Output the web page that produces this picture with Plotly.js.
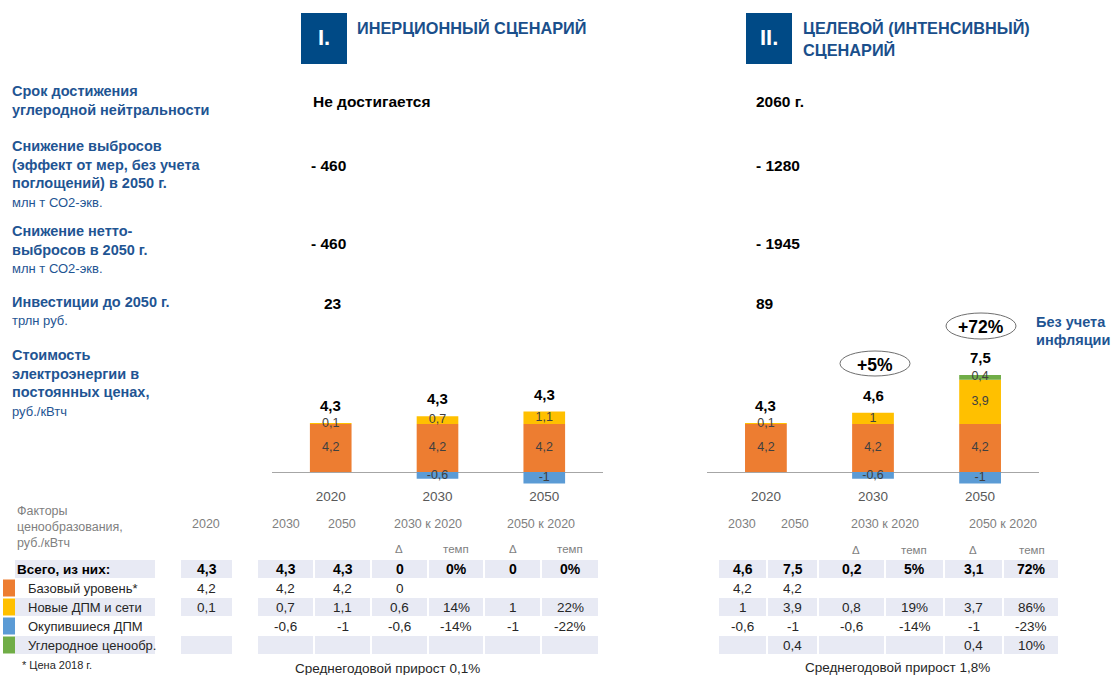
<!DOCTYPE html>
<html><head><meta charset="utf-8">
<script src="https://cdn.plot.ly/plotly-3.0.1.min.js"></script>
<style>html,body{margin:0;padding:0;background:#fff}#chart{width:1111px;height:675px}</style>
</head><body><div id="chart"></div>
<script>
// ---------- DATA ----------
const years = ['2020', '2030', '2050'];
// I. Inertial scenario, rub/kWh
const inBase   = [4.2, 4.2, 4.2];
const inNew    = [0.1, 0.7, 1.1];
const inPaid   = [0, -0.6, -1];
const inCarbon = [0, 0, 0];
const inTotal  = [4.3, 4.3, 4.3];
// II. Target (intensive) scenario, rub/kWh
const tgBase   = [4.2, 4.2, 4.2];
const tgNew    = [0.1, 1, 3.9];
const tgPaid   = [0, -0.6, -1];
const tgCarbon = [0, 0, 0.4];
const tgTotal  = [4.3, 4.6, 7.5];
const tgBadges = ['+5%', '+72%'];

const rowLabels = ['Срок достижения<br>углеродной нейтральности',
  'Снижение выбросов<br>(эффект от мер, без учета<br>поглощений) в 2050 г.',
  'Снижение нетто-<br>выбросов в 2050 г.',
  'Инвестиции до 2050 г.',
  'Стоимость<br>электроэнергии в<br>постоянных ценах,'];
const rowUnits = ['', 'млн т СО2-экв.', 'млн т СО2-экв.', 'трлн руб.', 'руб./кВтч'];
const inValues = ['Не достигается', '- 460', '- 460', '23'];
const tgValues = ['2060 г.', '- 1280', '- 1945', '89'];

const factorNames = ['Всего, из них:', 'Базовый уровень*', 'Новые ДПМ и сети', 'Окупившиеся ДПМ', 'Углеродное ценообр.'];
const factorColors = [null, '#ED7D31', '#FFC000', '#5B9BD5', '#70AD47'];
const tblIn2020  = [4.3, 4.2, 0.1, null, null];
const tblIn2030  = [4.3, 4.2, 0.7, -0.6, null];
const tblIn2050  = [4.3, 4.2, 1.1, -1, null];
const tblInD2030 = [0, 0, 0.6, -0.6, null];
const tblInT2030 = [0, null, 14, -14, null];
const tblInD2050 = [0, null, 1, -1, null];
const tblInT2050 = [0, null, 22, -22, null];
const tblTg2030  = [4.6, 4.2, 1, -0.6, null];
const tblTg2050  = [7.5, 4.2, 3.9, -1, 0.4];
const tblTgD2030 = [0.2, null, 0.8, -0.6, null];
const tblTgT2030 = [5, null, 19, -14, null];
const tblTgD2050 = [3.1, null, 3.7, -1, 0.4];
const tblTgT2050 = [72, null, 86, -23, 10];
const inAvgGrowth = 'Среднегодовой прирост 0,1%';
const tgAvgGrowth = 'Среднегодовой прирост 1,8%';

// ---------- HELPERS ----------
const W = 1111, H = 675;
const X = p => p / W, Y = p => 1 - p / H;
const F = 'Liberation Sans, Arial, sans-serif';
const BLUE_T = '#1F5593';
const fmt = v => v == null ? '' : String(v).replace('.', ',');
const pct = v => v == null ? '' : v + '%';
const ann = [];
const shapes = [];
function txt(x, y, text, size, color, anchor) {
  ann.push({xref: 'paper', yref: 'paper', x: X(x), y: Y(y), text: text, showarrow: false,
    xanchor: anchor || 'left', yanchor: 'middle', align: anchor === 'center' ? 'center' : 'left',
    font: {family: F, size: size, color: color}});
}
function rect(x0, y0, x1, y1, color) {
  shapes.push({type: 'rect', xref: 'paper', yref: 'paper', x0: X(x0), x1: X(x1), y0: Y(y1), y1: Y(y0),
    fillcolor: color, line: {width: 0}, layer: 'below'});
}

// ---------- HEADERS ----------
rect(301, 13, 347, 64, '#004A86');
txt(324, 38, '<b>I.</b>', 22, '#ffffff', 'center');
txt(355, 28, '<b>ИНЕРЦИОННЫЙ СЦЕНАРИЙ</b>', 16.3, '#1A4F8B');
rect(746, 13, 792, 64, '#004A86');
txt(769, 38, '<b>II.</b>', 22, '#ffffff', 'center');
txt(801, 28, '<b>ЦЕЛЕВОЙ (ИНТЕНСИВНЫЙ)</b>', 16.3, '#1A4F8B');
txt(801, 50, '<b>СЦЕНАРИЙ</b>', 16.3, '#1A4F8B');

// ---------- LEFT LABELS ----------
const labelTops = [91, 146, 231, 302, 355];
const lineH = 18.7;
rowLabels.forEach((lab, i) => {
  const lines = lab.split('<br>');
  lines.forEach((ln, j) => txt(10, labelTops[i] + j * lineH, '<b>' + ln + '</b>', 14.5, BLUE_T));
  if (rowUnits[i]) txt(10, labelTops[i] + lines.length * lineH, rowUnits[i], 13, BLUE_T);
});
const valueYs = [101, 166, 243, 304];
inValues.forEach((v, i) => txt(i === 3 ? 333 : (i === 0 ? 311 : 309), valueYs[i], '<b>' + v + '</b>', 15.5, '#000', i === 3 ? 'center' : 'left'));
tgValues.forEach((v, i) => txt(754, valueYs[i], '<b>' + v + '</b>', 15.5, '#000'));
txt(1034, 322, '<b>Без учета</b>', 14.5, BLUE_T);
txt(1034, 340, '<b>инфляции</b>', 14.5, BLUE_T);

// ---------- BARS ----------
const COLORS = {base: '#ED7D31', nw: '#FFC000', paid: '#5B9BD5', carbon: '#70AD47'};
function barTraces(base, nw, paid, carbon, total, xa, ya) {
  const t = [];
  const mk = (vals, color) => ({type: 'bar', x: years, y: vals, width: 0.39, xaxis: xa, yaxis: ya,
    marker: {color: color, line: {width: 0}}, hoverinfo: 'skip', showlegend: false});
  t.push(mk(base, COLORS.base), mk(nw, COLORS.nw), mk(carbon, COLORS.carbon), mk(paid, COLORS.paid));
  // segment labels at segment mid-points
  const lx = [], ly = [], lt = [];
  years.forEach((yr, i) => {
    let pos = 0;
    [base[i], nw[i], carbon[i]].forEach(v => {
      if (v !== 0) { lx.push(yr); ly.push(pos + v / 2); lt.push(fmt(v)); }
      pos += v;
    });
    if (paid[i] !== 0) { lx.push(yr); ly.push(paid[i] / 2); lt.push(fmt(paid[i])); }
    ann.push({xref: xa, yref: ya, x: i, y: pos, yanchor: 'bottom', yshift: 7, showarrow: false,
      text: '<b>' + fmt(total[i]) + '</b>', font: {family: F, size: 15, color: '#000'}});
  });
  t.push({type: 'scatter', mode: 'text', x: lx, y: ly, text: lt, xaxis: xa, yaxis: ya,
    textposition: 'middle center', textfont: {family: F, size: 12.5, color: '#404040'},
    hoverinfo: 'skip', showlegend: false});
  return t;
}
const data = [].concat(
  barTraces(inBase, inNew, inPaid, inCarbon, inTotal, 'x', 'y'),
  barTraces(tgBase, tgNew, tgPaid, tgCarbon, tgTotal, 'x2', 'y2')
);

// growth badges
const badgeBoxes = [[840, 351, 910, 376], [946, 313, 1016, 339]];
tgBadges.forEach((b, i) => {
  const [x0, y0, x1, y1] = badgeBoxes[i];
  shapes.push({type: 'circle', xref: 'paper', yref: 'paper', x0: X(x0), x1: X(x1), y0: Y(y1), y1: Y(y0),
    line: {color: '#6F6F6F', width: 1}, fillcolor: 'rgba(0,0,0,0)'});
  txt((x0 + x1) / 2, (y0 + y1) / 2 + 1, '<b>' + b + '</b>', 17.5, '#000', 'center');
});

// ---------- TABLES ----------
const SHADE = '#E8EAF4';
const rowY = [569, 588, 607, 626, 645];
const shadedRows = [0, 2, 4];
const inCols = [[181, 232], [258, 313], [315, 370], [372, 427], [429, 483], [485, 540], [542, 598]];
const inData = [tblIn2020.map(fmt), tblIn2030.map(fmt), tblIn2050.map(fmt), tblInD2030.map(fmt),
  tblInT2030.map(pct), tblInD2050.map(fmt), tblInT2050.map(pct)];
const tgCols = [[719, 766], [768, 817], [819, 884], [886, 943], [945, 1002], [1004, 1058]];
const tgData = [tblTg2030.map(fmt), tblTg2050.map(fmt), tblTgD2030.map(fmt), tblTgT2030.map(pct),
  tblTgD2050.map(fmt), tblTgT2050.map(pct)];

shadedRows.forEach(r => {
  const y0 = rowY[r] - 9, y1 = rowY[r] + 9;
  rect(15, y0, 155, y1, SHADE);
  inCols.forEach(c => rect(c[0], y0, c[1], y1, SHADE));
  tgCols.forEach(c => rect(c[0], y0, c[1], y1, SHADE));
});
factorNames.forEach((n, r) => {
  if (r === 0) txt(15, rowY[r], '<b>' + n + '</b>', 13.5, '#000');
  else {
    txt(26, rowY[r], n, 13, '#262626');
    rect(3, rowY[r] - 8.5, 15, rowY[r] + 8.5, factorColors[r]);
  }
});
function fillTable(cols, dat) {
  cols.forEach((c, ci) => dat[ci].forEach((v, r) => {
    if (v !== '') txt((c[0] + c[1]) / 2, rowY[r], r === 0 ? '<b>' + v + '</b>' : v, r === 0 ? 14 : 13.5, r === 0 ? '#000' : '#262626', 'center');
  }));
}
fillTable(inCols, inData);
fillTable(tgCols, tgData);

const GRAY = '#7F7F7F';
txt(15, 511, 'Факторы', 12.5, GRAY);
txt(15, 527, 'ценообразования,', 12.5, GRAY);
txt(15, 543, 'руб./кВтч', 12.5, GRAY);
const inHead = [['2020', 206], ['2030', 286], ['2050', 342], ['2030 к 2020', 428], ['2050 к 2020', 541]];
inHead.forEach(h => txt(h[1], 524, h[0], 12.5, GRAY, 'center'));
[[399, 'Δ'], [456, 'темп'], [513, 'Δ'], [570, 'темп']].forEach(h => txt(h[0], 549, h[1], 11.5, GRAY, 'center'));
const tgHead = [['2030', 742], ['2050', 795], ['2030 к 2020', 885], ['2050 к 2020', 1003]];
tgHead.forEach(h => txt(h[1], 524, h[0], 12.5, GRAY, 'center'));
[[856, 'Δ'], [914, 'темп'], [973, 'Δ'], [1032, 'темп']].forEach(h => txt(h[0], 550, h[1], 11.5, GRAY, 'center'));

txt(20, 665, '* Цена 2018 г.', 11, '#262626');
txt(387, 668, inAvgGrowth, 13.5, '#262626', 'center');
txt(897, 667, tgAvgGrowth, 13.5, '#262626', 'center');

// ---------- AXES ----------
const yDom = [Y(486.25), Y(363.7)];
const yRange = [-1.25, 9.5];
const xCommon = {type: 'category', range: [-0.55, 2.55], showgrid: false, showline: false, zeroline: false,
  ticks: '', tickfont: {family: F, size: 13.5, color: '#595959'}, fixedrange: true};
const yCommon = {range: yRange, domain: yDom, showgrid: false, showticklabels: false, showline: false,
  zeroline: true, zerolinecolor: '#A6A6A6', zerolinewidth: 1, ticks: '', fixedrange: true};

const layout = {
  width: W, height: H, margin: {l: 0, r: 0, t: 0, b: 0},
  paper_bgcolor: '#ffffff', plot_bgcolor: 'rgba(0,0,0,0)',
  barmode: 'relative', showlegend: false, separators: ', ',
  xaxis: Object.assign({}, xCommon, {domain: [X(272), X(603)], anchor: 'y'}),
  yaxis: Object.assign({}, yCommon, {anchor: 'x'}),
  xaxis2: Object.assign({}, xCommon, {domain: [X(707), X(1039)], anchor: 'y2'}),
  yaxis2: Object.assign({}, yCommon, {anchor: 'x2'}),
  annotations: ann, shapes: shapes
};
Plotly.newPlot('chart', data, layout, {displayModeBar: false, staticPlot: true});
</script></body></html>
